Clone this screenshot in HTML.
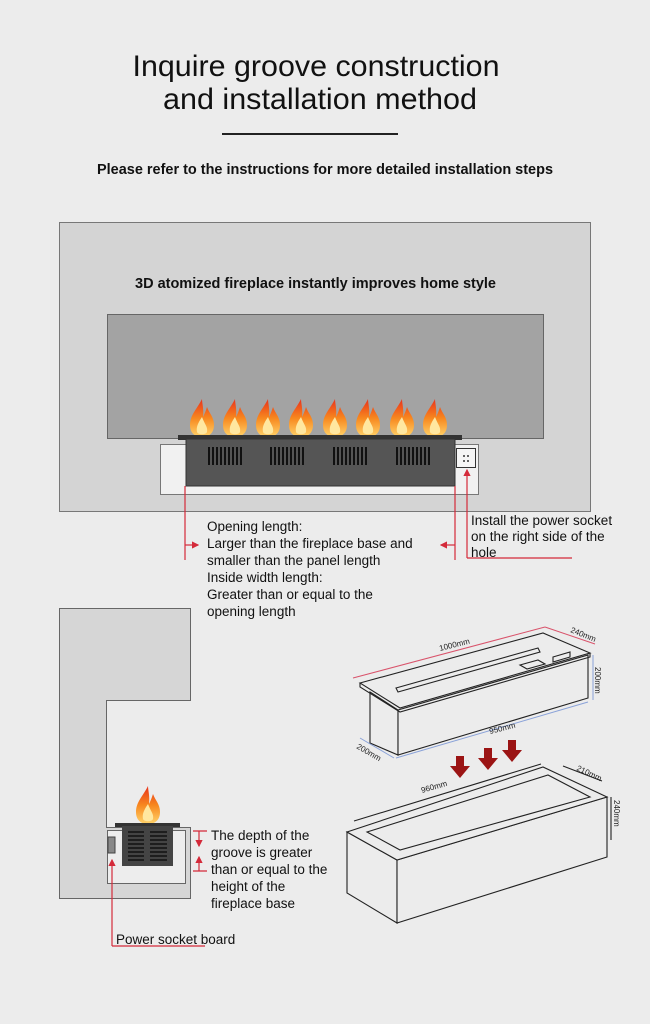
<!DOCTYPE html>
<html><head><meta charset="utf-8"><style>
html,body{margin:0;padding:0;background:#ececec;}
svg{display:block;font-family:"Liberation Sans",Arial,sans-serif;}
</style></head><body>
<svg width="650" height="1024" viewBox="0 0 650 1024" xmlns="http://www.w3.org/2000/svg">
<defs>
<linearGradient id="fl" x1="0" y1="0" x2="0" y2="1">
<stop offset="0" stop-color="#e8321c"/><stop offset="0.5" stop-color="#f7871e"/><stop offset="1" stop-color="#ffd36a"/>
</linearGradient>
<g id="flame">
<path d="M0,-36 C-5,-26 -12,-20 -12,-10 C-12,-2 -7,2 0,2 C7,2 12,-2 12,-10 C12,-18 7,-22 5,-28 C3,-22 2,-20 1,-18 C2,-26 0,-32 0,-36Z" fill="url(#fl)"/>
<path d="M0,-18 C-4,-12 -6,-8 -5,-3 C-4,0 4,0 5,-3 C6,-8 3,-10 0,-18Z" fill="#ffe7a0"/>
</g>
<g id="vent">
<path d="M1,0V18M5,0V18M9,0V18M13,0V18M17,0V18M21,0V18M25,0V18M29,0V18M33,0V18" stroke="#111" stroke-width="2"/>
</g>
<marker id="ar" markerWidth="6" markerHeight="6" refX="5" refY="3" orient="auto"><path d="M0,0L6,3L0,6Z" fill="#d42a3a"/></marker>
</defs>
<rect width="650" height="1024" fill="#ececec"/>
<text x="316" y="76" font-size="30" text-anchor="middle" textLength="367" lengthAdjust="spacingAndGlyphs" fill="#111">Inquire groove construction</text>
<text x="320" y="109" font-size="30" text-anchor="middle" textLength="314" lengthAdjust="spacingAndGlyphs" fill="#111">and installation method</text>
<rect x="222" y="133" width="176" height="2" fill="#222"/>
<text x="325" y="174" font-size="14.5" font-weight="bold" text-anchor="middle" textLength="456" lengthAdjust="spacingAndGlyphs" fill="#111">Please refer to the instructions for more detailed installation steps</text>

<rect x="59.5" y="222.5" width="531" height="289" fill="#d4d4d4" stroke="#777"/>
<text x="135" y="288" font-size="14.5" font-weight="bold" textLength="361" lengthAdjust="spacingAndGlyphs" fill="#111">3D atomized fireplace instantly improves home style</text>
<rect x="107.5" y="314.5" width="436" height="124" fill="#a3a3a3" stroke="#666"/>
<rect x="160.5" y="444.5" width="318" height="50" fill="#f1f1f1" stroke="#777"/>
<use href="#flame" x="202" y="435"/><use href="#flame" x="235" y="435"/><use href="#flame" x="268" y="435"/><use href="#flame" x="301" y="435"/>
<use href="#flame" x="335" y="435"/><use href="#flame" x="368" y="435"/><use href="#flame" x="402" y="435"/><use href="#flame" x="435" y="435"/>
<rect x="178" y="435" width="284" height="5" fill="#333"/>
<rect x="186" y="439" width="269" height="47" fill="#555" stroke="#333"/>
<use href="#vent" x="208" y="447"/><use href="#vent" x="270" y="447"/><use href="#vent" x="333" y="447"/><use href="#vent" x="396" y="447"/>
<rect x="456.5" y="448.5" width="19" height="19" fill="#f5f5f5" stroke="#333"/>
<circle cx="464" cy="456" r="1" fill="#333"/><circle cx="468" cy="456" r="1" fill="#333"/><circle cx="464" cy="461" r="1" fill="#333"/><circle cx="468" cy="461" r="1" fill="#333"/>

<g stroke="#d42a3a" stroke-width="1.2" fill="none">
<path d="M185,486V560"/><path d="M185,545H198" marker-end="url(#ar)"/>
<path d="M455,486V560"/><path d="M455,545H441" marker-end="url(#ar)"/>
<path d="M467,558V470" marker-end="url(#ar)"/><path d="M467,558H572"/>
</g>
<g font-size="13.5" fill="#111">
<text x="207" y="531">Opening length:</text>
<text x="207" y="548">Larger than the fireplace base and</text>
<text x="207" y="565">smaller than the panel length</text>
<text x="207" y="582">Inside width length:</text>
<text x="207" y="599">Greater than or equal to the</text>
<text x="207" y="616">opening length</text>
<text x="471" y="525">Install the power socket</text>
<text x="471" y="541">on the right side of the</text>
<text x="471" y="557">hole</text>
</g>

<path d="M59.5,608.5H190.5V700.5H106.5V827.5H190.5V898.5H59.5Z" fill="#d6d6d6" stroke="#666"/>
<rect x="107.5" y="830.5" width="78" height="53" fill="#ededed" stroke="#666"/>
<use href="#flame" x="148" y="822"/>
<rect x="115" y="823" width="65" height="4" fill="#333"/>
<rect x="122" y="826" width="51" height="40" fill="#444"/>
<g stroke="#111" stroke-width="1.5"><path d="M128,832H144M128,836H144M128,840H144M128,844H144M128,848H144M128,852H144M128,856H144M128,860H144M150,832H167M150,836H167M150,840H167M150,844H167M150,848H167M150,852H167M150,856H167M150,860H167"/></g>
<rect x="108" y="837" width="7" height="16" fill="#888" stroke="#444"/>
<g stroke="#d42a3a" stroke-width="1.2" fill="none">
<path d="M193,831H207M193,871H207"/><path d="M199,831V846" marker-end="url(#ar)"/><path d="M199,871V857" marker-end="url(#ar)"/>
<path d="M112,946V860" marker-end="url(#ar)"/><path d="M112,946H205"/>
</g>
<g font-size="13.5" fill="#111">
<text x="211" y="840">The depth of the</text>
<text x="211" y="857">groove is greater</text>
<text x="211" y="874">than or equal to the</text>
<text x="211" y="891">height of the</text>
<text x="211" y="908">fireplace base</text>
<text x="116" y="944">Power socket board</text>
</g>

<g fill="none" stroke="#222" stroke-width="1.1">
<path d="M370,692V743L398,755V710Z" fill="#ececec"/>
<path d="M398,710V755L588,698V655Z" fill="#ececec"/>
<path d="M360,683L543,633L590,653L400,708Z" fill="#ececec"/>
<path d="M360,683L360,687L400,712L590,657L590,653"/>
<path d="M396,688L538,648L540,652L398,692Z"/>
<path d="M520,665L538,660L545,664L527,669Z"/>
<path d="M553,657L570,652V657L553,662Z"/>
</g>
<path d="M353,678L545,627" stroke="#d9536b" stroke-width="1"/>
<path d="M545,627L595,644" stroke="#d9536b" stroke-width="1"/>
<path d="M593,655V700M396,758L588,702M360,738L394,758" stroke="#8aa2d8" stroke-width="1"/>
<g font-size="8" fill="#222">
<text x="440" y="651" transform="rotate(-14 440 651)">1000mm</text>
<text x="570" y="632" transform="rotate(22 570 632)">240mm</text>
<text x="595" y="667" transform="rotate(90 595 667)">200mm</text>
<text x="490" y="734" transform="rotate(-14 490 734)">950mm</text>
<text x="356" y="748" transform="rotate(30 356 748)">200mm</text>
<text x="422" y="793" transform="rotate(-16 422 793)">960mm</text>
<text x="576" y="770" transform="rotate(25 576 770)">210mm</text>
<text x="614" y="800" transform="rotate(90 614 800)">240mm</text>
</g>
<g fill="#9b1414">
<path d="M456,756h8v10h6l-10,12l-10,-12h6Z"/>
<path d="M484,748h8v10h6l-10,12l-10,-12h6Z"/>
<path d="M508,740h8v10h6l-10,12l-10,-12h6Z"/>
</g>
<g fill="none" stroke="#222" stroke-width="1.1">
<path d="M347,832V893L397,923V860Z" fill="#ececec"/>
<path d="M397,860V923L607,857V797Z" fill="#ececec"/>
<path d="M347,832L543,767L607,797L397,860Z" fill="#ececec"/>
<path d="M367,832L548,775L590,797L400,850Z"/>
<path d="M354,821L541,764M563,766L602,781M611,797V840"/>
</g>
</svg>
</body></html>
